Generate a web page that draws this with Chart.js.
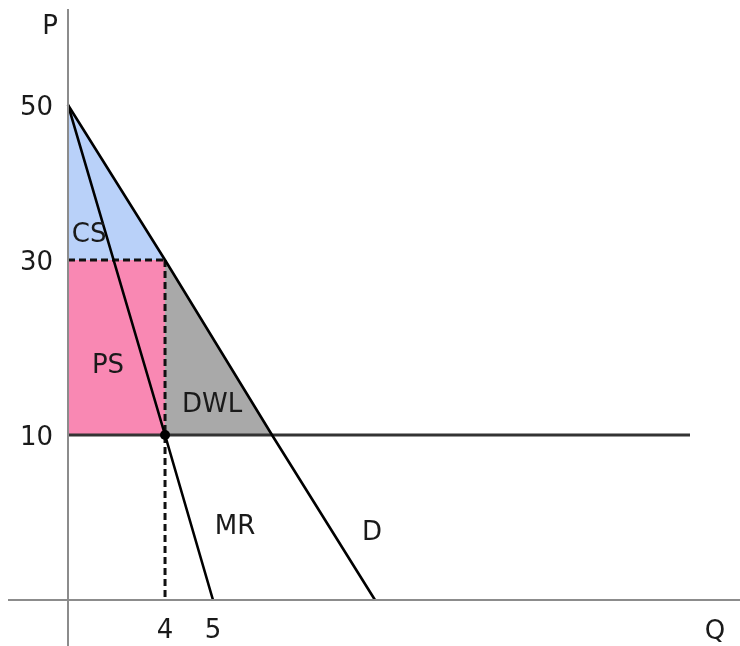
<!DOCTYPE html>
<html>
<head>
<meta charset="utf-8">
<script src="https://cdn.jsdelivr.net/npm/chart.js@4"></script>
<style>
  html, body { margin: 0; padding: 0; background: #ffffff; }
  #wrap { width: 740px; height: 646px; }
</style>
</head>
<body>
<div id="wrap"><canvas id="c" width="740" height="646"></canvas></div>
<script>
// ---- data ----
const xTicks = [4, 5];
const yTicks = [10, 30, 50];
const demandQ = [0, 4, 8, 10];
const demandP = [50, 30, 10, 0];
const mrQ = [0, 4, 5];
const mrP = [50, 10, 0];
const mcQ = [0, 16];
const mcP = [10, 10];
const monoQ = 4;      // monopoly quantity
const monoP = 30;     // monopoly price
const mcLevel = 10;   // marginal cost
const csQ = [0, 4];  const csP = [50, 30];
const psQ = [0, 4];  const psP = [30, 30];
const dwlQ = [4, 8]; const dwlP = [30, 10];
const areaLabels = ['CS', 'PS', 'DWL', 'MR', 'D'];
const areaLabelQ = [0.87, 1.65, 4.98, 6.12, 9.94];
const areaLabelP = [33.2, 17.8, 13.4, 4.4, 4.06];

// ---- schematic (non-uniform) axis layout: value -> fraction of axis ----
const KNOTS = {
  x: [[0, 0], [4, 0.156], [5, 0.2331], [8, 0.328], [10, 0.4936], [16, 1]],
  y: [[0, 0], [10, 0.2792], [30, 0.5753], [50, 0.8376], [60, 1]]
};
function fwd(k, v) {
  if (v <= k[0][0]) return k[0][1] + (v - k[0][0]) * (k[1][1] - k[0][1]) / (k[1][0] - k[0][0]);
  for (let i = 1; i < k.length; i++) {
    if (v <= k[i][0] || i === k.length - 1) {
      const a = k[i - 1], b = k[i];
      return a[1] + (v - a[0]) * (b[1] - a[1]) / (b[0] - a[0]);
    }
  }
}
function inv(k, d) {
  for (let i = 1; i < k.length; i++) {
    if (d <= k[i][1] || i === k.length - 1) {
      const a = k[i - 1], b = k[i];
      return a[0] + (d - a[1]) * (b[0] - a[0]) / (b[1] - a[1]);
    }
  }
}
class PiecewiseScale extends Chart.LinearScale {
  getPixelForValue(v) {
    if (v === null || v === undefined || isNaN(v)) return NaN;
    return this.getPixelForDecimal(fwd(KNOTS[this.id], v));
  }
  getValueForPixel(p) {
    return inv(KNOTS[this.id], this.getDecimalForPixel(p));
  }
}
PiecewiseScale.id = 'piecewise';
PiecewiseScale.defaults = Chart.LinearScale.defaults;
Chart.register(PiecewiseScale);

const FONT = 'DejaVu Sans';
const TXT = '#1a1a1a';
const pts = (qs, ps) => qs.map((q, i) => ({ x: q, y: ps[i] }));

const decor = {
  id: 'decor',
  afterDatasetsDraw(chart) {
    const { ctx, chartArea } = chart;
    const xs = chart.scales.x, ys = chart.scales.y;
    const x0 = xs.getPixelForValue(0), y0 = ys.getPixelForValue(0);
    ctx.save();
    ctx.strokeStyle = '#8c8c8c';
    ctx.lineWidth = 2;
    ctx.beginPath();
    ctx.moveTo(x0, chartArea.top);
    ctx.lineTo(x0, chart.height);
    ctx.moveTo(8, y0);
    ctx.lineTo(chart.width, y0);
    ctx.stroke();
    ctx.fillStyle = TXT;
    ctx.font = '26px "' + FONT + '"';
    ctx.textAlign = 'center';
    ctx.textBaseline = 'middle';
    areaLabels.forEach((t, i) => {
      ctx.fillText(t, xs.getPixelForValue(areaLabelQ[i]), ys.getPixelForValue(areaLabelP[i]));
    });
    ctx.fillText('P', x0 - 18, chartArea.top + 18);
    ctx.fillText('Q', chart.width - 25, y0 + 32);
    ctx.restore();
  }
};

const noPad = s => { s.paddingTop = 0; s.paddingBottom = 0; s.paddingLeft = 0; s.paddingRight = 0; };

new Chart(document.getElementById('c'), {
  type: 'line',
  data: {
    datasets: [
      { data: pts(demandQ, demandP), borderColor: '#000', borderWidth: 2.6, pointRadius: 0, fill: false, clip: false, order: 1 },
      { data: pts(mrQ, mrP), borderColor: '#000', borderWidth: 2.6, pointRadius: 0, fill: false, clip: false, order: 1 },
      { data: pts(mcQ, mcP), borderColor: '#333', borderWidth: 3, pointRadius: 0, fill: false, clip: false, order: 1 },
      { data: pts([0, monoQ], [monoP, monoP]), borderColor: '#111', borderWidth: 3, borderDash: [7, 4], pointRadius: 0, fill: false, clip: false, order: 2 },
      { data: pts([monoQ, monoQ], [monoP, 0]), borderColor: '#111', borderWidth: 3, borderDash: [7, 4], pointRadius: 0, fill: false, clip: false, order: 2 },
      { data: [{ x: monoQ, y: mcLevel }], showLine: false, pointRadius: 5, pointBackgroundColor: '#000', pointBorderWidth: 0, clip: false, order: 0 },
      { data: pts(csQ, csP), borderWidth: 0, pointRadius: 0, backgroundColor: '#b9d1f9', fill: { value: monoP }, order: 10 },
      { data: pts(psQ, psP), borderWidth: 0, pointRadius: 0, backgroundColor: '#f988b3', fill: { value: mcLevel }, order: 10 },
      { data: pts(dwlQ, dwlP), borderWidth: 0, pointRadius: 0, backgroundColor: '#a9a9a9', fill: { value: mcLevel }, order: 10 }
    ]
  },
  options: {
    responsive: false,
    animation: false,
    devicePixelRatio: 1,
    layout: { padding: { top: 9, right: 50, left: 0, bottom: 0 } },
    plugins: { legend: { display: false }, tooltip: { enabled: false } },
    elements: { line: { tension: 0 } },
    scales: {
      x: {
        type: 'piecewise', min: 0, max: 16,
        grid: { display: false, drawTicks: false },
        border: { display: false },
        afterBuildTicks: s => { s.ticks = xTicks.map(v => ({ value: v })); },
        afterFit: s => { s.height = 46; noPad(s); },
        ticks: { autoSkip: false, maxRotation: 0, padding: 16, color: TXT, font: { family: FONT, size: 26 }, callback: v => String(v) }
      },
      y: {
        type: 'piecewise', min: 0, max: 60,
        grid: { display: false, drawTicks: false },
        border: { display: false },
        afterBuildTicks: s => { s.ticks = yTicks.map(v => ({ value: v })); },
        afterFit: s => { s.width = 68; noPad(s); },
        ticks: { autoSkip: false, padding: 15, labelOffset: 3, color: TXT, font: { family: FONT, size: 26 }, callback: v => String(v) }
      }
    }
  },
  plugins: [decor]
});
</script>
</body>
</html>
